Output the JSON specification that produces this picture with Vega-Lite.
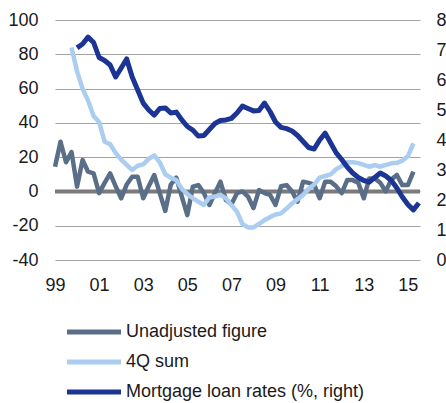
{
  "$schema": "https://vega.github.io/schema/vega-lite/v6.json",
  "width": 365,
  "height": 240,
  "autosize": {"type": "none"},
  "padding": {"left": 55, "top": 20, "right": 26, "bottom": 143},
  "config": {
    "font": "Liberation Sans",
    "view": {"stroke": null},
    "axis": {"labelFont": "Liberation Sans", "labelFontSize": 18, "labelColor": "#1a1a1a", "domain": false, "ticks": false, "title": null, "labelOverlap": false}
  },
  "data": {
    "values": [
      {"t": 1999.0, "u": 14.4},
      {"t": 1999.25, "u": 29},
      {"t": 1999.5, "u": 17},
      {"t": 1999.75, "u": 23, "q": 84},
      {"t": 2000.0, "u": 2.8, "q": 70, "m": 7.07},
      {"t": 2000.25, "u": 18.3, "q": 60, "m": 7.2},
      {"t": 2000.5, "u": 11.5, "q": 53, "m": 7.43},
      {"t": 2000.75, "u": 10.5, "q": 44, "m": 7.25},
      {"t": 2001.0, "u": -1, "q": 40.5, "m": 6.75},
      {"t": 2001.25, "u": 5, "q": 29, "m": 6.65},
      {"t": 2001.5, "u": 10.5, "q": 27.5, "m": 6.5},
      {"t": 2001.75, "u": 3, "q": 22.5, "m": 6.1},
      {"t": 2002.0, "u": -4, "q": 18.5, "m": 6.4},
      {"t": 2002.25, "u": 4, "q": 15.5, "m": 6.7},
      {"t": 2002.5, "u": 8.6, "q": 12.5, "m": 6.1},
      {"t": 2002.75, "u": 8.6, "q": 15, "m": 5.67},
      {"t": 2003.0, "u": -4, "q": 15.8, "m": 5.23},
      {"t": 2003.25, "u": 3, "q": 19, "m": 5.0},
      {"t": 2003.5, "u": 9.6, "q": 21, "m": 4.83},
      {"t": 2003.75, "u": -1, "q": 17, "m": 5.05},
      {"t": 2004.0, "u": -11.4, "q": 10, "m": 5.07},
      {"t": 2004.25, "u": 4, "q": 8, "m": 4.9},
      {"t": 2004.5, "u": 8, "q": 6.6, "m": 4.93},
      {"t": 2004.75, "u": -3, "q": 1.5, "m": 4.67},
      {"t": 2005.0, "u": -13.8, "q": -1.5, "m": 4.45},
      {"t": 2005.25, "u": 2.8, "q": -4, "m": 4.33},
      {"t": 2005.5, "u": 3.7, "q": -6, "m": 4.13},
      {"t": 2005.75, "u": -1, "q": -7.9, "m": 4.15},
      {"t": 2006.0, "u": -7.9, "q": -3.5, "m": 4.35},
      {"t": 2006.25, "u": -1, "q": -3, "m": 4.55},
      {"t": 2006.5, "u": 5.7, "q": -2, "m": 4.65},
      {"t": 2006.75, "u": -5, "q": -4, "m": 4.67},
      {"t": 2007.0, "u": -7.5, "q": -8, "m": 4.72},
      {"t": 2007.25, "u": -1, "q": -11.8, "m": 4.9},
      {"t": 2007.5, "u": 0, "q": -19, "m": 5.13},
      {"t": 2007.75, "u": -3, "q": -21, "m": 5.05},
      {"t": 2008.0, "u": -9.7, "q": -21, "m": 4.97},
      {"t": 2008.25, "u": 0.8, "q": -19, "m": 4.98},
      {"t": 2008.5, "u": -1, "q": -16.7, "m": 5.23},
      {"t": 2008.75, "u": -2, "q": -15, "m": 4.95},
      {"t": 2009.0, "u": -7.9, "q": -13.5, "m": 4.6},
      {"t": 2009.25, "u": 3, "q": -12.8, "m": 4.42},
      {"t": 2009.5, "u": 3.7, "q": -10, "m": 4.38},
      {"t": 2009.75, "u": 0, "q": -7, "m": 4.3},
      {"t": 2010.0, "u": -6, "q": -4.5, "m": 4.15},
      {"t": 2010.25, "u": 5.7, "q": -2, "m": 3.95},
      {"t": 2010.5, "u": 5, "q": 1.5, "m": 3.75},
      {"t": 2010.75, "u": 4, "q": 4, "m": 3.7},
      {"t": 2011.0, "u": -4, "q": 8, "m": 4.0},
      {"t": 2011.25, "u": 5.7, "q": 9, "m": 4.23},
      {"t": 2011.5, "u": 5.7, "q": 10, "m": 3.9},
      {"t": 2011.75, "u": 3, "q": 13, "m": 3.57},
      {"t": 2012.0, "u": -1, "q": 14.8, "m": 3.35},
      {"t": 2012.25, "u": 6.6, "q": 17, "m": 3.1},
      {"t": 2012.5, "u": 6.6, "q": 17, "m": 2.9},
      {"t": 2012.75, "u": 5, "q": 16.5, "m": 2.75},
      {"t": 2013.0, "u": -4, "q": 15.5, "m": 2.65},
      {"t": 2013.25, "u": 7.6, "q": 14.4, "m": 2.6},
      {"t": 2013.5, "u": 7.6, "q": 15.4, "m": 2.75},
      {"t": 2013.75, "u": 5, "q": 14.4, "m": 2.9},
      {"t": 2014.0, "u": 0, "q": 15.5, "m": 2.8},
      {"t": 2014.25, "u": 7, "q": 16.4, "m": 2.65},
      {"t": 2014.5, "u": 9.6, "q": 16.7, "m": 2.4},
      {"t": 2014.75, "u": 3.7, "q": 18, "m": 2.1},
      {"t": 2015.0, "u": 3.7, "q": 20.5, "m": 1.85},
      {"t": 2015.25, "u": 11.5, "q": 28, "m": 1.67},
      {"t": 2015.5, "m": 1.9}
    ]
  },
  "layer": [
    {
      "layer": [
        {
          "data": {"values": [{"level": 0}]},
          "mark": {"type": "rule", "color": "#7b7b7b", "strokeWidth": 4},
          "encoding": {
            "y": {
              "field": "level", "type": "quantitative",
              "scale": {"domain": [-40, 100], "nice": false, "zero": false},
              "axis": {"orient": "left", "values": [-40, -20, 0, 20, 40, 60, 80, 100], "labelExpr": "toString(datum.value)", "grid": true, "gridColor": "#a3a3a3", "gridWidth": 1, "labelPadding": 17}
            }
          }
        },
        {
          "transform": [
            {"fold": ["u", "q", "m"], "as": ["s", "v"]},
            {"filter": "isValid(datum.v) && datum.s != 'm'"}
          ],
          "mark": {"type": "line", "strokeWidth": 4.5, "strokeJoin": "round"},
          "encoding": {
            "x": {
              "field": "t", "type": "quantitative",
              "scale": {"domain": [1999, 2015.55], "nice": false, "zero": false},
              "axis": {"values": [1999, 2001, 2003, 2005, 2007, 2009, 2011, 2013, 2015], "labelExpr": "substring(toString(datum.value), 2, 4)", "grid": false, "labelPadding": 16, "labelFlush": false}
            },
            "y": {
              "field": "v", "type": "quantitative",
              "scale": {"domain": [-40, 100], "nice": false, "zero": false},
              "axis": {"orient": "left", "values": [-40, -20, 0, 20, 40, 60, 80, 100], "labelExpr": "toString(datum.value)", "grid": true, "gridColor": "#a3a3a3", "gridWidth": 1, "labelPadding": 17}
            },
            "color": {
              "field": "s", "type": "nominal",
              "scale": {"domain": ["u", "q", "m"], "range": ["#5a6f87", "#aacdf0", "#1c3594"]},
              "legend": {
                "orient": "none", "legendX": 19, "legendY": 292, "direction": "vertical",
                "title": null, "symbolType": "M-1.543,0H1.543", "symbolSize": 1225, "symbolStrokeWidth": 5,
                "labelFontSize": 18, "labelColor": "#1a1a1a", "labelOffset": 12, "rowPadding": 0, "labelLimit": 0,
                "labelExpr": "datum.value == 'u' ? 'Unadjusted figure' : datum.value == 'q' ? '4Q sum' : 'Mortgage loan rates (%, right)'"
              }
            }
          }
        }
      ]
    },
    {
      "transform": [
        {"fold": ["u", "q", "m"], "as": ["s", "v"]},
        {"filter": "isValid(datum.v) && datum.s == 'm'"}
      ],
      "mark": {"type": "line", "strokeWidth": 5, "strokeJoin": "round"},
      "encoding": {
        "x": {"field": "t", "type": "quantitative", "scale": {"domain": [1999, 2015.55], "nice": false, "zero": false}},
        "y": {
          "field": "v", "type": "quantitative",
          "scale": {"domain": [0, 8], "nice": false, "zero": false},
          "axis": {"orient": "right", "values": [0, 1, 2, 3, 4, 5, 6, 7, 8], "grid": false, "labelPadding": 16}
        },
        "color": {"field": "s", "type": "nominal", "scale": {"domain": ["u", "q", "m"], "range": ["#5a6f87", "#aacdf0", "#1c3594"]}}
      }
    }
  ],
  "resolve": {"scale": {"y": "independent"}}
}
